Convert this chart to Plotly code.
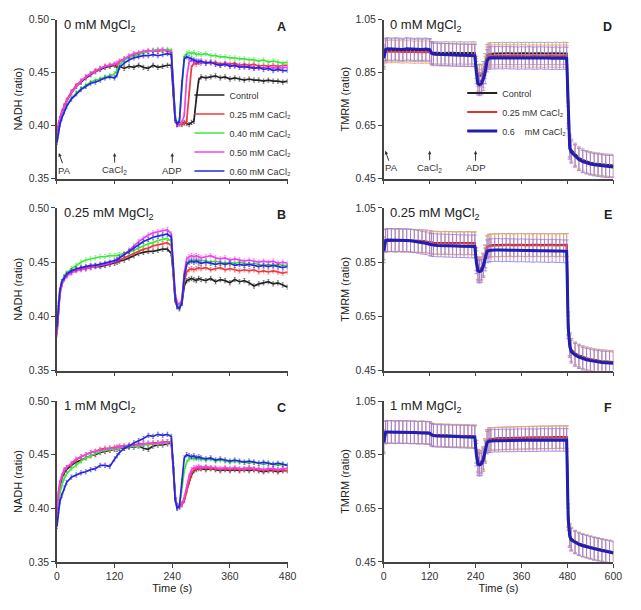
import plotly.graph_objects as go

# time points (s)
T_NADH = [0, 3, 6, 10, 15, 20, 30, 40, 50, 60,
          70, 80, 90, 100, 110, 120, 125, 130, 140, 150,
          160, 170, 180, 190, 200, 210, 220, 230, 238, 242,
          246, 250, 255, 260, 265, 270, 275, 280, 285, 290,
          295, 300, 310, 320, 330, 340, 350, 360, 370, 380,
          390, 400, 410, 420, 430, 440, 450, 460, 470, 480]
T_TMRM = [0, 5, 10, 20, 30, 40, 50, 60, 70, 80,
          90, 100, 110, 120, 125, 130, 140, 150, 160, 170,
          180, 190, 200, 210, 220, 230, 238, 242, 246, 250,
          255, 260, 265, 270, 275, 280, 290, 300, 310, 320,
          330, 340, 350, 360, 370, 380, 390, 400, 410, 420,
          430, 440, 450, 460, 470, 478, 482, 486, 490, 500,
          510, 520, 530, 540, 550, 560, 570, 580, 590, 600]

# ---- NADH, panel A (0 mM MgCl2)
A_CTRL = [0.392, 0.400, 0.406, 0.412, 0.418, 0.423, 0.431, 0.437, 0.441, 0.445,
          0.448, 0.451, 0.453, 0.455, 0.456, 0.457, 0.455, 0.456, 0.454, 0.456,
          0.455, 0.457, 0.455, 0.454, 0.457, 0.455, 0.456, 0.457, 0.457, 0.430,
          0.405, 0.401, 0.402, 0.401, 0.403, 0.402, 0.401, 0.403, 0.404, 0.425,
          0.443, 0.446, 0.445, 0.446, 0.447, 0.445, 0.446, 0.444, 0.445, 0.444,
          0.443, 0.444, 0.443, 0.443, 0.442, 0.443, 0.442, 0.442, 0.441, 0.442]
A_025 = [0.393, 0.401, 0.407, 0.413, 0.419, 0.424, 0.432, 0.438, 0.442, 0.446,
         0.449, 0.452, 0.454, 0.456, 0.457, 0.458, 0.458, 0.460, 0.463, 0.465,
         0.467, 0.468, 0.469, 0.470, 0.471, 0.470, 0.471, 0.471, 0.470, 0.440,
         0.408, 0.401, 0.401, 0.402, 0.402, 0.404, 0.430, 0.455, 0.459, 0.458,
         0.460, 0.459, 0.460, 0.459, 0.460, 0.458, 0.459, 0.458, 0.459, 0.457,
         0.458, 0.457, 0.458, 0.456, 0.457, 0.456, 0.457, 0.456, 0.457, 0.457]
A_040 = [0.385, 0.395, 0.402, 0.408, 0.414, 0.419, 0.426, 0.431, 0.435, 0.438,
         0.441, 0.443, 0.444, 0.446, 0.447, 0.449, 0.452, 0.457, 0.462, 0.464,
         0.466, 0.467, 0.469, 0.470, 0.471, 0.472, 0.471, 0.472, 0.471, 0.440,
         0.410, 0.402, 0.404, 0.435, 0.465, 0.468, 0.469, 0.468, 0.469, 0.467,
         0.468, 0.467, 0.468, 0.466, 0.466, 0.465, 0.465, 0.464, 0.464, 0.463,
         0.463, 0.462, 0.462, 0.461, 0.462, 0.460, 0.461, 0.460, 0.459, 0.460]
A_050 = [0.390, 0.399, 0.406, 0.412, 0.418, 0.423, 0.431, 0.437, 0.442, 0.446,
         0.449, 0.451, 0.454, 0.456, 0.457, 0.458, 0.459, 0.461, 0.463, 0.466,
         0.468, 0.469, 0.470, 0.471, 0.470, 0.471, 0.472, 0.470, 0.469, 0.438,
         0.406, 0.401, 0.402, 0.403, 0.410, 0.445, 0.460, 0.462, 0.461, 0.460,
         0.461, 0.460, 0.459, 0.460, 0.458, 0.457, 0.458, 0.457, 0.456, 0.457,
         0.455, 0.456, 0.455, 0.454, 0.455, 0.454, 0.455, 0.454, 0.455, 0.455]
A_060 = [0.384, 0.394, 0.401, 0.407, 0.413, 0.418, 0.425, 0.430, 0.434, 0.437,
         0.440, 0.441, 0.443, 0.445, 0.446, 0.445, 0.448, 0.455, 0.459, 0.462,
         0.464, 0.465, 0.466, 0.466, 0.467, 0.466, 0.467, 0.468, 0.467, 0.437,
         0.407, 0.401, 0.405, 0.440, 0.463, 0.465, 0.464, 0.463, 0.462, 0.461,
         0.460, 0.461, 0.459, 0.460, 0.458, 0.457, 0.458, 0.456, 0.457, 0.455,
         0.456, 0.455, 0.454, 0.455, 0.453, 0.454, 0.452, 0.453, 0.452, 0.452]

# ---- NADH, panel B (0.25 mM MgCl2)
B_CTRL = [0.387, 0.410, 0.422, 0.430, 0.435, 0.438, 0.441, 0.443, 0.444, 0.444,
          0.445, 0.446, 0.446, 0.447, 0.448, 0.449, 0.450, 0.451, 0.452, 0.454,
          0.456, 0.458, 0.459, 0.460, 0.460, 0.461, 0.462, 0.462, 0.458, 0.440,
          0.415, 0.409, 0.408, 0.412, 0.428, 0.433, 0.434, 0.435, 0.434, 0.433,
          0.435, 0.434, 0.433, 0.435, 0.432, 0.434, 0.433, 0.431, 0.434, 0.432,
          0.433, 0.431, 0.428, 0.430, 0.431, 0.432, 0.430, 0.431, 0.429, 0.427]
B_025 = [0.385, 0.408, 0.421, 0.430, 0.435, 0.438, 0.441, 0.443, 0.444, 0.445,
         0.446, 0.447, 0.447, 0.448, 0.449, 0.450, 0.451, 0.452, 0.454, 0.456,
         0.458, 0.460, 0.462, 0.463, 0.465, 0.466, 0.467, 0.468, 0.465, 0.442,
         0.416, 0.410, 0.409, 0.413, 0.432, 0.441, 0.443, 0.444, 0.443, 0.444,
         0.445, 0.444, 0.445, 0.443, 0.444, 0.445, 0.443, 0.444, 0.443, 0.442,
         0.443, 0.442, 0.443, 0.441, 0.442, 0.441, 0.442, 0.441, 0.440, 0.441]
B_040 = [0.388, 0.411, 0.424, 0.432, 0.437, 0.440, 0.444, 0.447, 0.450, 0.452,
         0.453, 0.454, 0.455, 0.455, 0.456, 0.456, 0.456, 0.457, 0.458, 0.459,
         0.461, 0.463, 0.465, 0.467, 0.468, 0.470, 0.471, 0.472, 0.469, 0.445,
         0.418, 0.411, 0.409, 0.415, 0.438, 0.449, 0.451, 0.452, 0.451, 0.452,
         0.451, 0.452, 0.451, 0.450, 0.451, 0.450, 0.449, 0.450, 0.449, 0.450,
         0.449, 0.448, 0.449, 0.448, 0.447, 0.448, 0.447, 0.448, 0.447, 0.447]
B_050 = [0.383, 0.407, 0.420, 0.429, 0.434, 0.437, 0.440, 0.442, 0.443, 0.444,
         0.445, 0.446, 0.447, 0.448, 0.449, 0.451, 0.452, 0.454, 0.457, 0.461,
         0.465, 0.469, 0.472, 0.475, 0.477, 0.478, 0.479, 0.480, 0.476, 0.450,
         0.422, 0.413, 0.411, 0.415, 0.440, 0.453, 0.455, 0.456, 0.455, 0.456,
         0.455, 0.454, 0.455, 0.456, 0.454, 0.453, 0.454, 0.452, 0.453, 0.452,
         0.451, 0.452, 0.451, 0.450, 0.451, 0.450, 0.451, 0.449, 0.450, 0.449]
B_060 = [0.390, 0.412, 0.424, 0.432, 0.436, 0.439, 0.442, 0.444, 0.445, 0.446,
         0.447, 0.447, 0.448, 0.449, 0.450, 0.451, 0.452, 0.454, 0.457, 0.460,
         0.463, 0.466, 0.469, 0.471, 0.473, 0.474, 0.475, 0.476, 0.473, 0.447,
         0.418, 0.409, 0.407, 0.413, 0.437, 0.448, 0.450, 0.451, 0.450, 0.451,
         0.450, 0.449, 0.450, 0.449, 0.448, 0.449, 0.448, 0.449, 0.447, 0.448,
         0.447, 0.448, 0.447, 0.446, 0.447, 0.446, 0.447, 0.446, 0.445, 0.446]

# ---- NADH, panel C (1 mM MgCl2)
C_CTRL = [0.390, 0.410, 0.420, 0.428, 0.433, 0.436, 0.440, 0.443, 0.445, 0.447,
          0.449, 0.450, 0.452, 0.453, 0.454, 0.455, 0.455, 0.456, 0.456, 0.457,
          0.457, 0.458, 0.456, 0.455, 0.458, 0.459, 0.459, 0.460, 0.461, 0.440,
          0.412, 0.402, 0.402, 0.404, 0.408, 0.417, 0.425, 0.431, 0.435, 0.436,
          0.437, 0.437, 0.436, 0.437, 0.436, 0.435, 0.436, 0.435, 0.436, 0.435,
          0.436, 0.435, 0.436, 0.435, 0.434, 0.435, 0.435, 0.434, 0.435, 0.435]
C_025 = [0.392, 0.414, 0.424, 0.430, 0.436, 0.438, 0.441, 0.445, 0.448, 0.450,
         0.452, 0.453, 0.455, 0.456, 0.456, 0.457, 0.457, 0.458, 0.458, 0.459,
         0.459, 0.460, 0.460, 0.460, 0.461, 0.461, 0.462, 0.462, 0.462, 0.440,
         0.410, 0.401, 0.401, 0.403, 0.407, 0.416, 0.425, 0.432, 0.436, 0.437,
         0.438, 0.437, 0.438, 0.437, 0.437, 0.436, 0.437, 0.436, 0.437, 0.436,
         0.436, 0.437, 0.436, 0.436, 0.435, 0.436, 0.436, 0.435, 0.436, 0.435]
C_040 = [0.388, 0.405, 0.414, 0.421, 0.428, 0.432, 0.437, 0.440, 0.444, 0.447,
         0.449, 0.451, 0.453, 0.454, 0.455, 0.455, 0.456, 0.456, 0.457, 0.457,
         0.458, 0.458, 0.459, 0.459, 0.460, 0.460, 0.461, 0.461, 0.462, 0.440,
         0.410, 0.400, 0.403, 0.418, 0.435, 0.443, 0.446, 0.447, 0.446, 0.447,
         0.446, 0.446, 0.445, 0.446, 0.444, 0.445, 0.444, 0.443, 0.444, 0.443,
         0.443, 0.442, 0.443, 0.442, 0.441, 0.442, 0.441, 0.440, 0.441, 0.440]
C_050 = [0.391, 0.413, 0.423, 0.430, 0.435, 0.438, 0.442, 0.446, 0.448, 0.450,
         0.452, 0.453, 0.454, 0.455, 0.456, 0.456, 0.457, 0.457, 0.458, 0.458,
         0.459, 0.459, 0.460, 0.461, 0.460, 0.461, 0.461, 0.462, 0.461, 0.439,
         0.410, 0.402, 0.401, 0.404, 0.410, 0.420, 0.430, 0.436, 0.438, 0.438,
         0.439, 0.438, 0.439, 0.438, 0.438, 0.437, 0.438, 0.437, 0.438, 0.437,
         0.437, 0.438, 0.437, 0.437, 0.436, 0.437, 0.437, 0.436, 0.437, 0.437]
C_060 = [0.383, 0.398, 0.406, 0.412, 0.419, 0.424, 0.429, 0.431, 0.433, 0.434,
         0.436, 0.437, 0.440, 0.440, 0.439, 0.446, 0.449, 0.452, 0.456, 0.458,
         0.461, 0.463, 0.465, 0.468, 0.467, 0.469, 0.468, 0.469, 0.467, 0.440,
         0.408, 0.400, 0.402, 0.425, 0.447, 0.450, 0.449, 0.448, 0.449, 0.447,
         0.448, 0.447, 0.446, 0.447, 0.445, 0.446, 0.445, 0.444, 0.445, 0.444,
         0.443, 0.444, 0.443, 0.442, 0.443, 0.442, 0.441, 0.442, 0.441, 0.440]

# ---- TMRM, panel D (0 mM MgCl2)
D_CTRL = [0.915, 0.935, 0.936, 0.935, 0.936, 0.935, 0.934, 0.936, 0.935, 0.934,
          0.935, 0.934, 0.935, 0.933, 0.926, 0.925, 0.925, 0.924, 0.925, 0.924,
          0.925, 0.924, 0.925, 0.924, 0.924, 0.925, 0.924, 0.870, 0.840, 0.838,
          0.840, 0.850, 0.880, 0.915, 0.920, 0.921, 0.922, 0.922, 0.923, 0.922,
          0.923, 0.922, 0.923, 0.922, 0.923, 0.922, 0.923, 0.922, 0.923, 0.922,
          0.923, 0.922, 0.923, 0.922, 0.923, 0.922, 0.700, 0.575, 0.558, 0.542,
          0.528, 0.520, 0.514, 0.510, 0.507, 0.505, 0.503, 0.501, 0.500, 0.499]
D_025 = [0.910, 0.928, 0.930, 0.929, 0.930, 0.929, 0.928, 0.929, 0.928, 0.927,
         0.928, 0.927, 0.928, 0.927, 0.920, 0.918, 0.918, 0.917, 0.918, 0.917,
         0.917, 0.916, 0.917, 0.916, 0.916, 0.917, 0.916, 0.860, 0.822, 0.818,
         0.820, 0.835, 0.870, 0.905, 0.912, 0.913, 0.913, 0.914, 0.913, 0.914,
         0.913, 0.914, 0.913, 0.914, 0.913, 0.912, 0.913, 0.912, 0.913, 0.912,
         0.913, 0.912, 0.913, 0.912, 0.913, 0.912, 0.690, 0.570, 0.553, 0.537,
         0.524, 0.516, 0.511, 0.507, 0.504, 0.502, 0.500, 0.498, 0.497, 0.496]
D_060 = [0.905, 0.938, 0.940, 0.939, 0.940, 0.939, 0.938, 0.940, 0.939, 0.938,
         0.939, 0.938, 0.939, 0.937, 0.924, 0.921, 0.920, 0.919, 0.918, 0.918,
         0.917, 0.917, 0.916, 0.916, 0.915, 0.915, 0.914, 0.850, 0.808, 0.805,
         0.808, 0.825, 0.850, 0.895, 0.905, 0.906, 0.906, 0.907, 0.906, 0.907,
         0.906, 0.906, 0.905, 0.906, 0.905, 0.906, 0.905, 0.905, 0.906, 0.905,
         0.905, 0.904, 0.905, 0.904, 0.905, 0.904, 0.680, 0.565, 0.550, 0.535,
         0.522, 0.514, 0.509, 0.505, 0.502, 0.500, 0.498, 0.496, 0.495, 0.494]

# ---- TMRM, panel E (0.25 mM MgCl2)
E_CTRL = [0.902, 0.929, 0.931, 0.931, 0.930, 0.931, 0.930, 0.931, 0.930, 0.929,
          0.929, 0.928, 0.927, 0.925, 0.923, 0.922, 0.922, 0.921, 0.922, 0.921,
          0.921, 0.920, 0.921, 0.920, 0.921, 0.920, 0.920, 0.862, 0.828, 0.825,
          0.828, 0.842, 0.872, 0.906, 0.911, 0.912, 0.913, 0.913, 0.914, 0.913,
          0.914, 0.913, 0.914, 0.914, 0.913, 0.914, 0.913, 0.914, 0.913, 0.914,
          0.913, 0.914, 0.913, 0.914, 0.913, 0.914, 0.625, 0.548, 0.527, 0.514,
          0.506, 0.500, 0.496, 0.492, 0.489, 0.487, 0.485, 0.484, 0.483, 0.482]
E_025 = [0.900, 0.928, 0.930, 0.930, 0.929, 0.930, 0.929, 0.930, 0.929, 0.928,
         0.928, 0.927, 0.926, 0.924, 0.922, 0.921, 0.921, 0.920, 0.921, 0.920,
         0.920, 0.919, 0.920, 0.919, 0.920, 0.919, 0.919, 0.860, 0.825, 0.822,
         0.825, 0.840, 0.870, 0.905, 0.910, 0.911, 0.912, 0.912, 0.913, 0.912,
         0.913, 0.912, 0.913, 0.913, 0.912, 0.913, 0.912, 0.913, 0.912, 0.913,
         0.912, 0.913, 0.912, 0.913, 0.912, 0.913, 0.620, 0.545, 0.525, 0.512,
         0.504, 0.498, 0.494, 0.491, 0.488, 0.486, 0.484, 0.483, 0.482, 0.481]
E_060 = [0.890, 0.930, 0.932, 0.932, 0.931, 0.932, 0.931, 0.930, 0.929, 0.927,
         0.925, 0.922, 0.920, 0.916, 0.914, 0.913, 0.912, 0.912, 0.911, 0.911,
         0.910, 0.910, 0.909, 0.909, 0.908, 0.908, 0.908, 0.850, 0.818, 0.815,
         0.818, 0.835, 0.860, 0.890, 0.893, 0.894, 0.895, 0.895, 0.894, 0.895,
         0.894, 0.894, 0.893, 0.894, 0.893, 0.893, 0.892, 0.893, 0.892, 0.892,
         0.891, 0.892, 0.891, 0.891, 0.890, 0.890, 0.610, 0.540, 0.520, 0.508,
         0.500, 0.494, 0.490, 0.487, 0.484, 0.482, 0.480, 0.479, 0.478, 0.477]

# ---- TMRM, panel F (1 mM MgCl2)
F_CTRL = [0.902, 0.933, 0.935, 0.935, 0.934, 0.935, 0.934, 0.935, 0.934, 0.934,
          0.933, 0.934, 0.933, 0.932, 0.926, 0.924, 0.923, 0.923, 0.922, 0.922,
          0.921, 0.921, 0.921, 0.920, 0.920, 0.919, 0.919, 0.862, 0.828, 0.823,
          0.825, 0.838, 0.868, 0.902, 0.908, 0.909, 0.910, 0.911, 0.911, 0.912,
          0.912, 0.912, 0.913, 0.913, 0.913, 0.914, 0.914, 0.914, 0.915, 0.915,
          0.915, 0.915, 0.916, 0.916, 0.916, 0.916, 0.625, 0.552, 0.537, 0.526,
          0.519, 0.513, 0.509, 0.505, 0.501, 0.498, 0.495, 0.492, 0.489, 0.486]
F_025 = [0.900, 0.932, 0.934, 0.934, 0.933, 0.934, 0.933, 0.934, 0.933, 0.933,
         0.932, 0.933, 0.932, 0.931, 0.925, 0.923, 0.922, 0.922, 0.921, 0.921,
         0.920, 0.920, 0.920, 0.919, 0.919, 0.918, 0.918, 0.860, 0.825, 0.820,
         0.822, 0.835, 0.865, 0.900, 0.906, 0.907, 0.908, 0.909, 0.910, 0.910,
         0.911, 0.911, 0.912, 0.912, 0.913, 0.913, 0.913, 0.914, 0.914, 0.914,
         0.914, 0.915, 0.915, 0.915, 0.915, 0.915, 0.620, 0.550, 0.535, 0.524,
         0.517, 0.512, 0.508, 0.504, 0.500, 0.497, 0.494, 0.491, 0.488, 0.485]
F_060 = [0.895, 0.934, 0.935, 0.935, 0.934, 0.935, 0.934, 0.934, 0.933, 0.933,
         0.932, 0.932, 0.931, 0.930, 0.924, 0.921, 0.920, 0.920, 0.919, 0.919,
         0.918, 0.918, 0.917, 0.917, 0.916, 0.916, 0.915, 0.850, 0.815, 0.812,
         0.815, 0.830, 0.860, 0.895, 0.900, 0.901, 0.902, 0.902, 0.903, 0.903,
         0.903, 0.903, 0.904, 0.904, 0.904, 0.904, 0.904, 0.904, 0.905, 0.905,
         0.905, 0.905, 0.905, 0.905, 0.905, 0.905, 0.610, 0.545, 0.532, 0.522,
         0.515, 0.510, 0.506, 0.502, 0.498, 0.495, 0.492, 0.489, 0.486, 0.483]

NADH_SD = 0.002
TMRM_SD = 0.042

NADH_LABELS = ["Control", "0.25 mM CaCl₂", "0.40 mM CaCl₂", "0.50 mM CaCl₂", "0.60 mM CaCl₂"]
TMRM_LABELS = ["Control", "0.25 mM CaCl₂", "0.6&nbsp;&nbsp;&nbsp; mM CaCl₂"]
MG_LABELS = ["0 mM MgCl<sub>2</sub>", "0.25 mM MgCl<sub>2</sub>", "1 mM MgCl<sub>2</sub>"]
PANEL_LETTERS = ["A", "B", "C", "D", "E", "F"]
EVENTS = [(4, "PA"), (120, "CaCl<sub>2</sub>"), (240, "ADP")]

NADH_COLORS = ["#222222", "#f03a3a", "#3de83d", "#f040f0", "#2626dc"]
TMRM_COLORS = ["#222222", "#e8302c", "#1e1eb4"]
TMRM_ERR_COLORS = ["#a0a0a0", "#f2a070", "#9a7ae6"]

nadh_sets = [[A_CTRL, A_025, A_040, A_050, A_060],
             [B_CTRL, B_025, B_040, B_050, B_060],
             [C_CTRL, C_025, C_040, C_050, C_060]]
tmrm_sets = [[D_CTRL, D_025, D_060], [E_CTRL, E_025, E_060], [F_CTRL, F_025, F_060]]

for s in nadh_sets:
    for v in s:
        assert len(v) == len(T_NADH)
for s in tmrm_sets:
    for v in s:
        assert len(v) == len(T_TMRM)

W, H = 641, 610
FONT = "Arial, Liberation Sans, sans-serif"
left_dom = [55 / W, 290 / W]
right_dom = [388 / W, 622 / W]
row_dom = [[1 - 176 / H, 1 - 14 / H], [1 - 372 / H, 1 - 206 / H], [1 - 567 / H, 1 - 403 / H]]

fig = go.Figure()

# NADH panels: axes 1..3, TMRM panels: axes 4..6
for r in range(3):
    ax = "" if r == 0 else str(r + 1)
    for vals, name, col in zip(nadh_sets[r], NADH_LABELS, NADH_COLORS):
        fig.add_trace(go.Scatter(
            x=T_NADH, y=vals, mode="lines", name=name,
            line=dict(color=col, width=1.7),
            error_y=dict(type="constant", value=NADH_SD, color=col, thickness=0.5, width=1),
            xaxis="x" + ax, yaxis="y" + ax,
            showlegend=(r == 0), legend="legend"))
    ax = str(r + 4)
    for i, (vals, name, col, ecol) in enumerate(zip(tmrm_sets[r], TMRM_LABELS, TMRM_COLORS, TMRM_ERR_COLORS)):
        fig.add_trace(go.Scatter(
            x=T_TMRM, y=vals, mode="lines", name=name,
            line=dict(color=col, width=3 if i == 2 else 2),
            error_y=dict(type="constant", value=TMRM_SD, color=ecol, thickness=0.8, width=2),
            xaxis="x" + ax, yaxis="y" + ax,
            showlegend=(r == 0), legend="legend2"))

axis_common = dict(showline=True, linecolor="#444", linewidth=1.5, ticks="outside",
                   ticklen=4, tickcolor="#444", showgrid=False, zeroline=False,
                   tickfont=dict(family=FONT, size=10.5, color="#333"))

layout = dict(width=W, height=H, margin=dict(l=0, r=0, t=0, b=0),
              paper_bgcolor="white", plot_bgcolor="white",
              font=dict(family=FONT, color="#222"))

for r in range(3):
    bottom = r == 2
    for c in range(2):
        n = r + 1 + 3 * c
        key = "" if n == 1 else str(n)
        xd = left_dom if c == 0 else right_dom
        xmax = 480 if c == 0 else 600
        xax = dict(axis_common, domain=xd, anchor="y" + key, range=[0, xmax],
                   tickvals=list(range(0, xmax + 1, 120)), showticklabels=bottom)
        if bottom:
            xax["title"] = dict(text="Time (s)", font=dict(family=FONT, size=11, color="#222"), standoff=2)
        if c == 0:
            yax = dict(axis_common, domain=row_dom[r], anchor="x" + key, range=[0.35, 0.50],
                       tickvals=[0.35, 0.40, 0.45, 0.50], tickformat=".2f",
                       title=dict(text="NADH (ratio)", font=dict(family=FONT, size=11, color="#222"), standoff=4))
        else:
            yax = dict(axis_common, domain=row_dom[r], anchor="x" + key, range=[0.45, 1.05],
                       tickvals=[0.45, 0.65, 0.85, 1.05], tickformat=".2f",
                       title=dict(text="TMRM (ratio)", font=dict(family=FONT, size=11, color="#222"), standoff=4))
        layout["xaxis" + key] = xax
        layout["yaxis" + key] = yax

layout["legend"] = dict(x=190 / W, y=1 - 76 / H, xanchor="left", yanchor="top",
                        bgcolor="rgba(0,0,0,0)", font=dict(family=FONT, size=9, color="#333"),
                        itemwidth=30, tracegroupgap=0)
layout["legend2"] = dict(x=468 / W, y=1 - 74 / H, xanchor="left", yanchor="top",
                         bgcolor="rgba(0,0,0,0)", font=dict(family=FONT, size=9, color="#333"),
                         itemwidth=30, tracegroupgap=0)

annotations = []
for r in range(3):
    for c in range(2):
        n = r + 1 + 3 * c
        key = "" if n == 1 else str(n)
        annotations.append(dict(text=MG_LABELS[r], xref="x" + key + " domain", yref="y" + key + " domain",
                                x=0.02, y=0.965, xanchor="left", yanchor="middle", showarrow=False,
                                font=dict(family=FONT, size=13, color="#222")))
        annotations.append(dict(text="<b>" + PANEL_LETTERS[n - 1] + "</b>", xref="x" + key + " domain",
                                yref="y" + key + " domain", x=0.975, y=0.955, xanchor="center",
                                yanchor="middle", showarrow=False,
                                font=dict(family=FONT, size=12.5, color="#222")))

# event arrows in panels A and D
for key, yhead in [("", 0.374), ("4", 0.555)]:
    for t, label in EVENTS:
        annotations.append(dict(text=label, x=t, y=yhead, xref="x" + key, yref="y" + key,
                                showarrow=True, arrowhead=2, arrowsize=0.7, arrowwidth=1,
                                arrowcolor="#333", ax=6 if label == "PA" else 0, ay=17,
                                font=dict(family=FONT, size=9.5, color="#333")))

layout["annotations"] = annotations
fig.update_layout(**layout)
# page body margin and scrollbars off so the 641x610 figure fills the window exactly
fig.write_html("out.html", config={"displayModeBar": False},
               post_script="document.body.style.margin = '0px';"
                           "document.body.style.overflow = 'hidden';"
                           "document.documentElement.style.overflow = 'hidden';")
